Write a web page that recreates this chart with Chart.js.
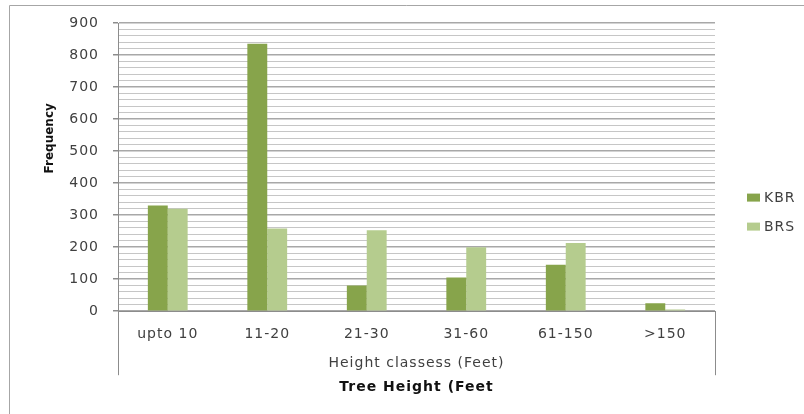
<!DOCTYPE html>
<html><head><meta charset="utf-8">
<script src="https://cdn.jsdelivr.net/npm/chart.js@4"></script>
<style>html,body{margin:0;padding:0;background:#fff}#wrap{width:804px;height:414px;position:relative}</style>
</head><body><div id="wrap"><canvas id="c" width="804" height="414"></canvas></div>
<script>
// ---- data ----
const categories = ['upto 10', '11-20', '21-30', '31-60', '61-150', '>150'];
const kbrValues = [330, 835, 80, 105, 145, 25];
const brsValues = [320, 258, 253, 200, 213, 5];
const seriesNames = ['KBR', 'BRS'];
const yTickMax = 900;
const yMinorStep = 20;
const yMajorStep = 100;
const yTitle = 'Frequency';
const xTitle = 'Height classess (Feet)';
const outerTitle = 'Tree Height (Feet';

// ---- styles ----
const colKBR = '#87a44b';
const colBRS = '#b5cc8e';
const textCol = '#404040';
const axisCol = '#8c8c8c';
const FONT = 'DejaVu Sans';

Chart.defaults.font.family = FONT;
Chart.defaults.color = textCol;

const isMajor = c => c.tick && (c.tick.value % yMajorStep === 0);

const decorPlugin = {
  id: 'decor',
  beforeDraw(chart) {
    const ctx = chart.ctx;
    ctx.letterSpacing = '1px';
    ctx.save();
    ctx.strokeStyle = '#a6a6a6';
    ctx.lineWidth = 1;
    ctx.beginPath();
    ctx.moveTo(9.5, chart.height);
    ctx.lineTo(9.5, 5.5);
    ctx.lineTo(chart.width, 5.5);
    ctx.stroke();
    ctx.restore();
  },
  afterDraw(chart) {
    const ctx = chart.ctx;
    const a = chart.chartArea;
    // y-axis title
    ctx.save();
    ctx.letterSpacing = '0px';
    ctx.translate(50, a.top + (a.bottom - a.top) * 0.4);
    ctx.rotate(-Math.PI / 2);
    ctx.textAlign = 'center';
    ctx.textBaseline = 'middle';
    ctx.fillStyle = '#111';
    ctx.font = 'bold 12px "' + FONT + '"';
    ctx.fillText(yTitle, 0, 0);
    ctx.restore();
    // legend
    ctx.save();
    const lx = a.right + 32;
    const cy = (a.top + a.bottom) / 2 + 45;
    const gap = 29;
    const ds = chart.data.datasets;
    ctx.font = '14px "' + FONT + '"';
    ctx.textBaseline = 'middle';
    ctx.textAlign = 'left';
    ds.forEach((d, i) => {
      const y = cy + (i - (ds.length - 1) / 2) * gap;
      ctx.fillStyle = d.backgroundColor;
      ctx.fillRect(lx, y - 4, 13, 8);
      ctx.fillStyle = textCol;
      ctx.fillText(d.label, lx + 17, y + 1);
    });
    ctx.restore();
  }
};

new Chart(document.getElementById('c'), {
  type: 'bar',
  data: {
    labels: categories,
    datasets: [
      { label: seriesNames[0], data: kbrValues, backgroundColor: colKBR, borderWidth: 0 },
      { label: seriesNames[1], data: brsValues, backgroundColor: colBRS, borderWidth: 0 }
    ]
  },
  options: {
    responsive: false,
    animation: false,
    devicePixelRatio: 1,
    layout: { padding: { top: 23, left: 0, right: 89, bottom: 0 } },
    datasets: { bar: { categoryPercentage: 0.4, barPercentage: 1.0 } },
    plugins: {
      legend: { display: false },
      tooltip: { enabled: false },
      title: {
        display: true,
        position: 'bottom',
        fullSize: false,
        text: outerTitle,
        color: '#111',
        font: { size: 14, weight: 'bold' },
        padding: { top: 0, bottom: 18 }
      }
    },
    scales: {
      x: {
        offset: true,
        grid: {
          offset: true,
          drawOnChartArea: false,
          color: 'transparent',
          tickLength: 64,
          tickColor: c => (c.type === 'scale' || c.index === 0) ? axisCol : 'transparent'
        },
        border: { color: axisCol, width: 1 },
        ticks: { padding: -49, color: textCol, font: { size: 14 }, maxRotation: 0, autoSkip: false },
        title: { display: true, text: xTitle, color: textCol, font: { size: 14 }, padding: { top: 0, bottom: 7 } },
        afterFit(s) { s.height = 68; }
      },
      y: {
        min: 0,
        max: yTickMax,
        grid: {
          color: c => isMajor(c) ? '#a8a8a8' : '#c6c6c6',
          lineWidth: c => isMajor(c) ? 1.5 : 1,
          tickLength: 5,
          tickColor: c => isMajor(c) ? axisCol : 'transparent'
        },
        border: { color: axisCol, width: 1 },
        ticks: {
          stepSize: yMinorStep,
          autoSkip: false,
          padding: 14,
          color: textCol,
          font: { size: 14 },
          callback: v => (v % yMajorStep === 0 ? String(v) : '')
        },
        afterFit(s) { s.width = 118; }
      }
    }
  },
  plugins: [decorPlugin]
});
</script>
</body></html>
